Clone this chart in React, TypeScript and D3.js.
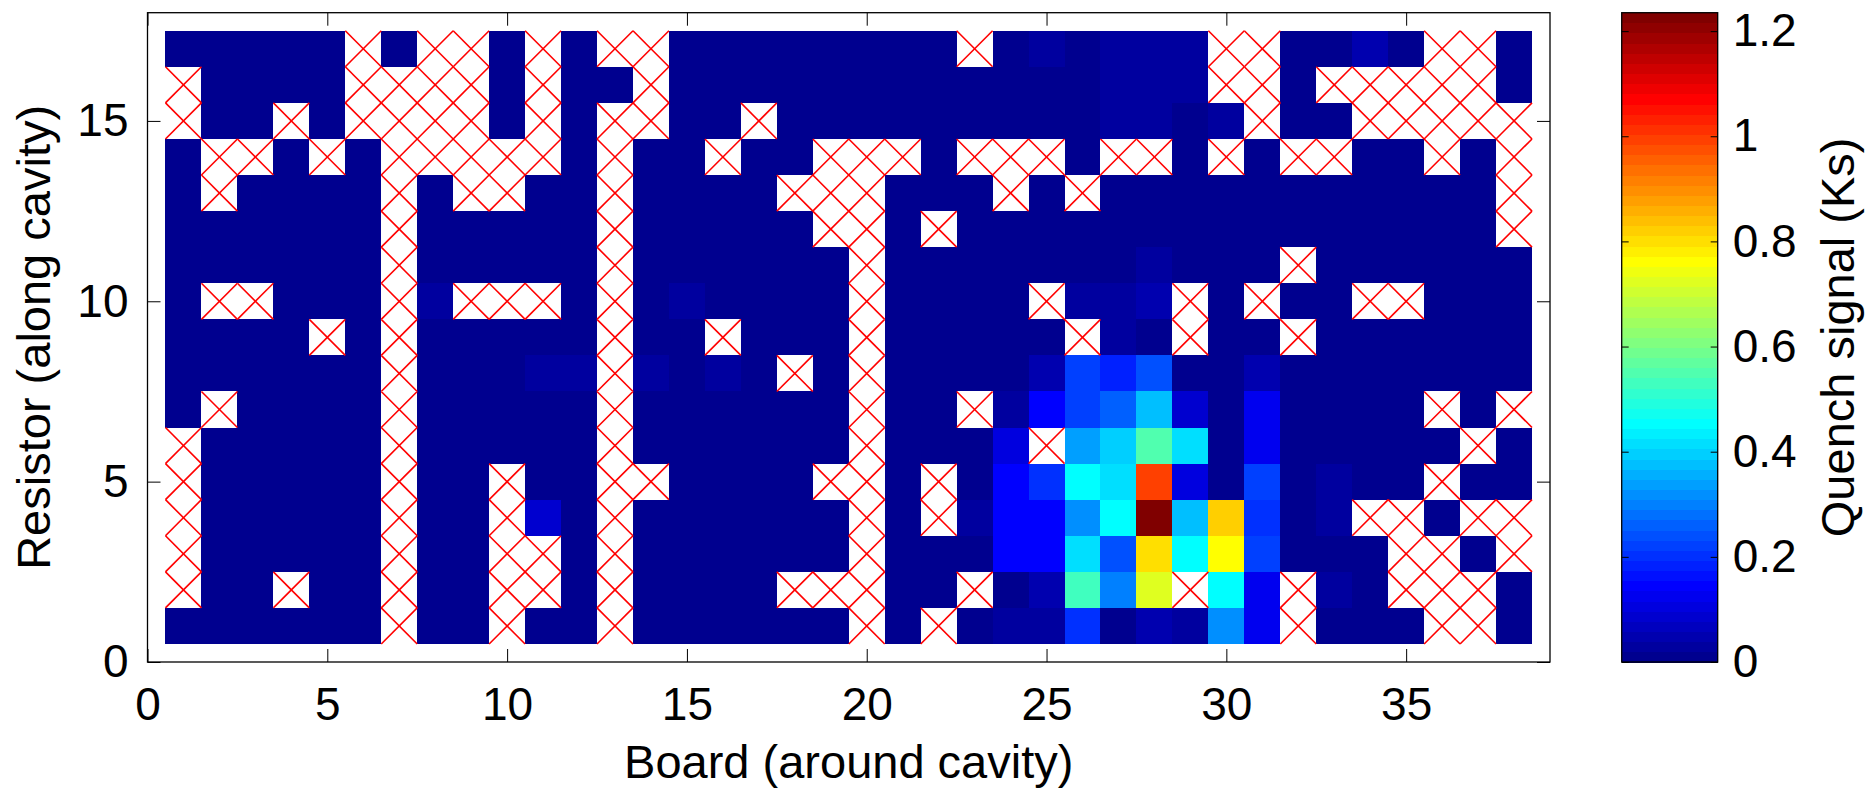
import { useEffect, useRef } from 'react';
import * as d3 from 'd3';

const _ = null;

// Board number along x, resistor number along y (top row first, as in quenchSignal)
const boards = [
  1, 2, 3, 4, 5, 6, 7, 8, 9, 10, 11, 12, 13, 14, 15, 16, 17, 18, 19,
  20, 21, 22, 23, 24, 25, 26, 27, 28, 29, 30, 31, 32, 33, 34, 35, 36, 37, 38,
];
const resistors = [17, 16, 15, 14, 13, 12, 11, 10, 9, 8, 7, 6, 5, 4, 3, 2, 1];

// Quench signal (Ks), one row per resistor (17 -> 1), one entry per board.
// null = no reading (drawn as a red cross)
const quenchSignal: (number | null)[][] = [
  [0, 0, 0, 0, 0, _, 0, _, _, 0, _, 0, _, _, 0, 0, 0, 0, 0, 0, 0, 0, _, 0, .03, 0, .03, .03, .03, _, _, 0, 0, .045, 0, _, _, 0],
  [_, 0, 0, 0, 0, _, _, _, _, 0, _, 0, 0, _, 0, 0, 0, 0, 0, 0, 0, 0, 0, 0, 0, 0, .03, .03, .03, _, _, 0, _, _, _, _, _, 0],
  [_, 0, 0, _, 0, _, _, _, _, 0, _, 0, _, _, 0, 0, _, 0, 0, 0, 0, 0, 0, 0, 0, 0, .03, .03, 0, .03, _, 0, 0, _, _, _, _, _],
  [0, _, _, 0, _, 0, _, _, _, _, _, 0, _, 0, 0, _, 0, 0, _, _, _, 0, _, _, _, 0, _, _, 0, _, 0, _, _, 0, 0, _, 0, _],
  [0, _, 0, 0, 0, 0, _, 0, _, _, 0, 0, _, 0, 0, 0, 0, _, _, _, 0, 0, 0, _, 0, _, 0, 0, 0, 0, 0, 0, 0, 0, 0, 0, 0, _],
  [0, 0, 0, 0, 0, 0, _, 0, 0, 0, 0, 0, _, 0, 0, 0, 0, 0, _, _, 0, _, 0, 0, 0, 0, 0, 0, 0, 0, 0, 0, 0, 0, 0, 0, 0, _],
  [0, 0, 0, 0, 0, 0, _, 0, 0, 0, 0, 0, _, 0, 0, 0, 0, 0, 0, _, 0, 0, 0, 0, 0, 0, 0, .03, 0, 0, 0, _, 0, 0, 0, 0, 0, 0],
  [0, _, _, 0, 0, 0, _, .03, _, _, _, 0, _, 0, .03, 0, 0, 0, 0, _, 0, 0, 0, 0, _, .03, .03, .05, _, 0, _, 0, 0, _, _, 0, 0, 0],
  [0, 0, 0, 0, _, 0, _, 0, 0, 0, 0, 0, _, 0, 0, _, 0, 0, 0, _, 0, 0, 0, 0, 0, _, .03, 0, _, 0, 0, _, 0, 0, 0, 0, 0, 0],
  [0, 0, 0, 0, 0, 0, _, 0, 0, 0, .03, .03, _, .03, 0, .03, 0, _, 0, _, 0, 0, 0, 0, .05, .22, .18, .24, 0, 0, .05, 0, 0, 0, 0, 0, 0, 0],
  [0, _, 0, 0, 0, 0, _, 0, 0, 0, 0, 0, _, 0, 0, 0, 0, 0, 0, _, 0, 0, _, .03, .145, .22, .26, .375, .09, 0, .13, 0, 0, 0, 0, _, 0, _],
  [_, 0, 0, 0, 0, 0, _, 0, 0, 0, 0, 0, _, 0, 0, 0, 0, 0, 0, _, 0, 0, 0, .105, _, .345, .39, .55, .41, 0, .13, 0, 0, 0, 0, 0, _, 0],
  [_, 0, 0, 0, 0, 0, _, 0, 0, _, 0, 0, _, _, 0, 0, 0, 0, _, _, 0, _, 0, .15, .2, .455, .41, .995, .105, 0, .22, 0, .03, 0, 0, _, 0, 0],
  [_, 0, 0, 0, 0, 0, _, 0, 0, _, .09, 0, _, 0, 0, 0, 0, 0, 0, _, 0, _, .03, .15, .15, .31, .455, 1.235, .375, .82, .21, 0, .03, _, _, 0, _, _],
  [_, 0, 0, 0, 0, 0, _, 0, 0, _, _, 0, _, 0, 0, 0, 0, 0, 0, _, 0, 0, 0, .15, .15, .415, .25, .8, .455, .765, .23, 0, 0, 0, _, _, 0, _],
  [_, 0, 0, _, 0, 0, _, 0, 0, _, _, 0, _, 0, 0, 0, 0, _, _, _, 0, 0, _, 0, .05, .53, .3, .725, _, .455, .135, _, .03, 0, _, _, _, 0],
  [0, 0, 0, 0, 0, 0, _, 0, 0, _, 0, 0, _, 0, 0, 0, 0, 0, 0, _, 0, _, 0, .03, .02, .21, 0, .05, .03, .32, .125, _, 0, 0, 0, _, _, 0],
];

const xTicks = [0, 5, 10, 15, 20, 25, 30, 35];
const yTicks = [0, 5, 10, 15];
const colorTicks = [0, 0.2, 0.4, 0.6, 0.8, 1, 1.2];

const W = 1872;
const H = 788;
const FONT = '"Liberation Sans", Arial, Helvetica, sans-serif';

// MATLAB-style jet colormap
const jet = (t: number) => {
  const c = (v: number) => Math.round(255 * Math.max(0, Math.min(1, v)));
  return `rgb(${c(1.5 - Math.abs(4 * t - 3))},${c(1.5 - Math.abs(4 * t - 2))},${c(1.5 - Math.abs(4 * t - 1))})`;
};

const App = () => {
  const svgRef = useRef<SVGSVGElement>(null);

  useEffect(() => {
    if (!svgRef.current) return;
    const svg = d3.select(svgRef.current);
    svg.selectAll('*').remove();

    const plot = { left: 147.5, right: 1550, top: 12.7, bottom: 662 };
    const cbar = { left: 1621.7, right: 1717.7 };

    const x = d3.scaleLinear().domain([0, 39]).range([plot.left, plot.right]);
    const y = d3.scaleLinear().domain([0, 18]).range([plot.bottom, plot.top]);

    const vmax = d3.max(quenchSignal.flat(), d => d ?? 0) as number;
    const palette = d3.range(1, 65).map(i => jet(i / 64));
    const color = d3.scaleQuantize<string>().domain([0, vmax]).range(palette);

    const cells = resistors.flatMap((r, i) =>
      boards.map((b, j) => ({ b, r, v: quenchSignal[i][j] }))
    );

    svg.append('rect').attr('width', W).attr('height', H).attr('fill', 'white');

    // Heatmap cells
    const grid = svg.append('g').attr('shape-rendering', 'crispEdges');
    grid.selectAll('rect.cell')
      .data(cells.filter(d => d.v !== null))
      .join('rect')
      .attr('class', 'cell')
      .attr('x', d => x(d.b - 0.5))
      .attr('y', d => y(d.r + 0.5))
      .attr('width', x(1) - x(0) + 0.4)
      .attr('height', y(0) - y(1) + 0.4)
      .attr('fill', d => color(d.v as number));

    // Missing readings: white cell with a red cross
    const missing = svg.append('g')
      .selectAll('g')
      .data(cells.filter(d => d.v === null))
      .join('g');
    missing.append('rect')
      .attr('x', d => x(d.b - 0.5))
      .attr('y', d => y(d.r + 0.5))
      .attr('width', x(1) - x(0))
      .attr('height', y(0) - y(1))
      .attr('fill', 'white')
      .attr('shape-rendering', 'crispEdges');
    missing.append('line')
      .attr('x1', d => x(d.b - 0.5)).attr('y1', d => y(d.r + 0.5))
      .attr('x2', d => x(d.b + 0.5)).attr('y2', d => y(d.r - 0.5))
      .attr('stroke', '#ff0000').attr('stroke-width', 1.6);
    missing.append('line')
      .attr('x1', d => x(d.b - 0.5)).attr('y1', d => y(d.r - 0.5))
      .attr('x2', d => x(d.b + 0.5)).attr('y2', d => y(d.r + 0.5))
      .attr('stroke', '#ff0000').attr('stroke-width', 1.6);

    const styleAxis = (g: d3.Selection<SVGGElement, unknown, null, undefined>) => {
      g.attr('font-size', 46).attr('font-family', FONT);
      g.select('.domain').remove();
      g.selectAll('.tick line').attr('stroke', '#000').attr('stroke-width', 1);
      g.selectAll('.tick text').attr('fill', '#000');
    };

    // Main axes, ticks pointing inward on all four sides
    svg.append('g')
      .attr('transform', `translate(0,${plot.bottom})`)
      .call(d3.axisBottom(x).tickValues(xTicks).tickSizeInner(-13).tickSizeOuter(0).tickPadding(25).tickFormat(d3.format('d')))
      .call(styleAxis);
    svg.append('g')
      .attr('transform', `translate(0,${plot.top})`)
      .call(d3.axisTop(x).tickValues(xTicks).tickSizeInner(-13).tickSizeOuter(0).tickFormat(() => ''))
      .call(styleAxis);
    svg.append('g')
      .attr('transform', `translate(${plot.left},0)`)
      .call(d3.axisLeft(y).tickValues(yTicks).tickSizeInner(-13).tickSizeOuter(0).tickPadding(19).tickFormat(d3.format('d')))
      .call(styleAxis);
    svg.append('g')
      .attr('transform', `translate(${plot.right},0)`)
      .call(d3.axisRight(y).tickValues(yTicks).tickSizeInner(-13).tickSizeOuter(0).tickFormat(() => ''))
      .call(styleAxis);

    svg.append('rect')
      .attr('x', plot.left).attr('y', plot.top)
      .attr('width', plot.right - plot.left).attr('height', plot.bottom - plot.top)
      .attr('fill', 'none').attr('stroke', '#000').attr('stroke-width', 1.3);

    // Axis titles
    svg.append('text')
      .attr('x', (plot.left + plot.right) / 2)
      .attr('y', 778)
      .attr('text-anchor', 'middle')
      .attr('font-family', FONT).attr('font-size', 47)
      .text('Board (around cavity)');
    svg.append('text')
      .attr('transform', `translate(50,${(plot.top + plot.bottom) / 2}) rotate(-90)`)
      .attr('text-anchor', 'middle')
      .attr('font-family', FONT).attr('font-size', 47)
      .text('Resistor (along cavity)');

    // Colorbar
    const cy = d3.scaleLinear().domain([0, vmax]).range([plot.bottom, plot.top]);
    const edges = [0, ...color.thresholds(), vmax];
    svg.append('g')
      .attr('shape-rendering', 'crispEdges')
      .selectAll('rect')
      .data(palette)
      .join('rect')
      .attr('x', cbar.left)
      .attr('width', cbar.right - cbar.left)
      .attr('y', (d, i) => cy(edges[i + 1]))
      .attr('height', (d, i) => cy(edges[i]) - cy(edges[i + 1]) + 0.5)
      .attr('fill', d => d);

    svg.append('g')
      .attr('transform', `translate(${cbar.right},0)`)
      .call(d3.axisRight(cy).tickValues(colorTicks).tickSizeInner(-7).tickSizeOuter(0).tickPadding(15).tickFormat(d => String(d)))
      .call(styleAxis);
    svg.append('g')
      .attr('transform', `translate(${cbar.left},0)`)
      .call(d3.axisLeft(cy).tickValues(colorTicks).tickSizeInner(-7).tickSizeOuter(0).tickFormat(() => ''))
      .call(styleAxis);
    svg.append('rect')
      .attr('x', cbar.left).attr('y', plot.top)
      .attr('width', cbar.right - cbar.left).attr('height', plot.bottom - plot.top)
      .attr('fill', 'none').attr('stroke', '#000').attr('stroke-width', 1.3);

    svg.append('text')
      .attr('transform', `translate(1854,${(plot.top + plot.bottom) / 2}) rotate(-90)`)
      .attr('text-anchor', 'middle')
      .attr('font-family', FONT).attr('font-size', 47)
      .text('Quench signal (Ks)');
  }, []);

  return (
    <svg
      ref={svgRef}
      width={W}
      height={H}
      style={{ position: 'absolute', left: 0, top: 0, display: 'block' }}
    />
  );
};

export default App;
